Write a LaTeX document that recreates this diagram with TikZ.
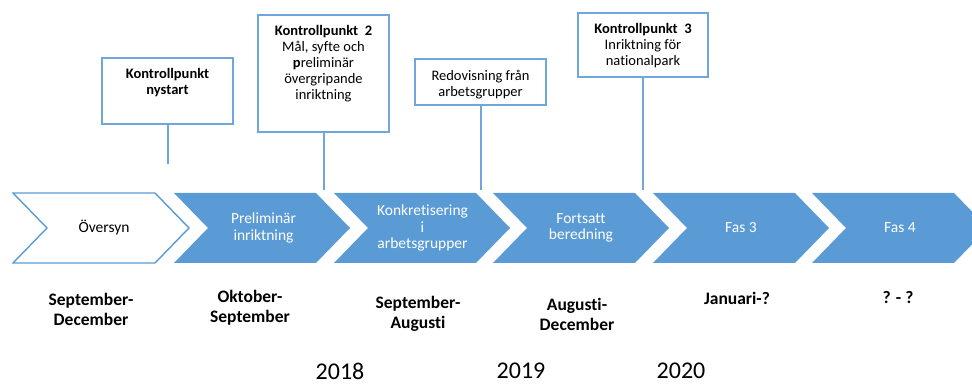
\documentclass[tikz,border=0pt]{standalone}
\usepackage{fontspec}
\setmainfont{Carlito}[Ligatures=NoCommon]
\begin{document}
\begin{tikzpicture}[x=1pt,y=-1pt,
  chevfill/.style={fill=chevblue,draw=none},
  chevopen/.style={fill=white,draw=chevblue,line width=1.4pt,line join=miter},
  chevtext/.style={font=\fontsize{15.5}{16.5}\selectfont,text=white,align=center,inner sep=0pt},
  kbox/.style={draw=boxblue,line width=2pt,fill=white,inner sep=0pt},
  ktext/.style={font=\fontsize{14.5}{16}\selectfont,align=center,inner sep=0pt},
  kline/.style={draw=boxblue,line width=2pt},
  period/.style={font=\fontsize{17.5}{20}\selectfont\bfseries,align=center,inner sep=0pt},
  year/.style={font=\fontsize{24}{26}\selectfont,inner sep=0pt}]
\definecolor{chevblue}{HTML}{5B9BD5}
\definecolor{boxblue}{HTML}{6FA6DC}
\useasboundingbox (0,0) rectangle (972,387);
\clip (0,0) rectangle (972,387);
% chevrons
\path[chevopen] (13,193) -- (155,193) -- (189,228) -- (155,263) -- (13,263) -- (47,228) -- cycle;
\foreach \x in {174,334,493,653,812}{
  \path[chevfill] (\x,193) -- (\x+142,193) -- (\x+176,228) -- (\x+142,263) -- (\x,263) -- (\x+34,228) -- cycle;
}
\node[chevtext,text=black] (c1) at (104,228) {Översyn};
\node[chevtext] (c2) at (263.5,228) {Preliminär\\inriktning};
\node[chevtext] (c3) at (422.5,228) {Konkretisering\\i\\arbetsgrupper};
\node[chevtext] (c4) at (581,228) {Fortsatt\\beredning};
\node[chevtext] (c5) at (741,228) {Fas 3};
\node[chevtext] (c6) at (900,228) {Fas 4};
% control point boxes
\node[kbox,minimum width=131pt,minimum height=66pt] (k1) at (167.5,91) {};
\node[kbox,minimum width=131pt,minimum height=117pt] (k2) at (323.5,73.5) {};
\node[kbox,minimum width=131pt,minimum height=46pt] (k3) at (480.5,82) {};
\node[kbox,minimum width=130pt,minimum height=64pt] (k4) at (643,45) {};
\node[ktext] (t1) at (167.5,83) {\textbf{Kontrollpunkt}\\\textbf{nystart}};
\node[ktext] (t2) at (323.5,63.5) {\textbf{Kontrollpunkt\ \ 2}\\Mål, syfte och\\\textbf{p}reliminär\\övergripande\\inriktning};
\node[ktext] (t3) at (480.5,84.5) {Redovisning från\\arbetsgrupper};
\node[ktext] (t4) at (643,45.5) {\textbf{Kontrollpunkt\ \ 3}\\Inriktning för\\nationalpark};
\coordinate (e1) at (168,164);
\coordinate (e2) at (325,190);
\coordinate (e3) at (481,190);
\coordinate (e4) at (645,190);
\draw[kline] (k1.south) -- (k1.south |- e1);
\draw[kline] (k2.south) -- (k2.south |- e2);
\draw[kline] (k3.south) -- (k3.south |- e3);
\draw[kline] (k4.south) -- (k4.south |- e4);
% periods
\node[period] (p1) at (91,309) {September-\\December};
\node[period] (p2) at (250,308) {Oktober-\\September};
\node[period] (p3) at (418,314) {September-\\Augusti};
\node[period] (p4) at (577,314) {Augusti-\\December};
\node[period] (p5) at (737,298) {Januari-?};
\node[period] (p6) at (898,298) {? - ?};
% years
\node[year] (y1) at (340,371) {2018};
\node[year] (y2) at (521,371) {2019};
\node[year] (y3) at (681,371) {2020};
\end{tikzpicture}
\end{document}
